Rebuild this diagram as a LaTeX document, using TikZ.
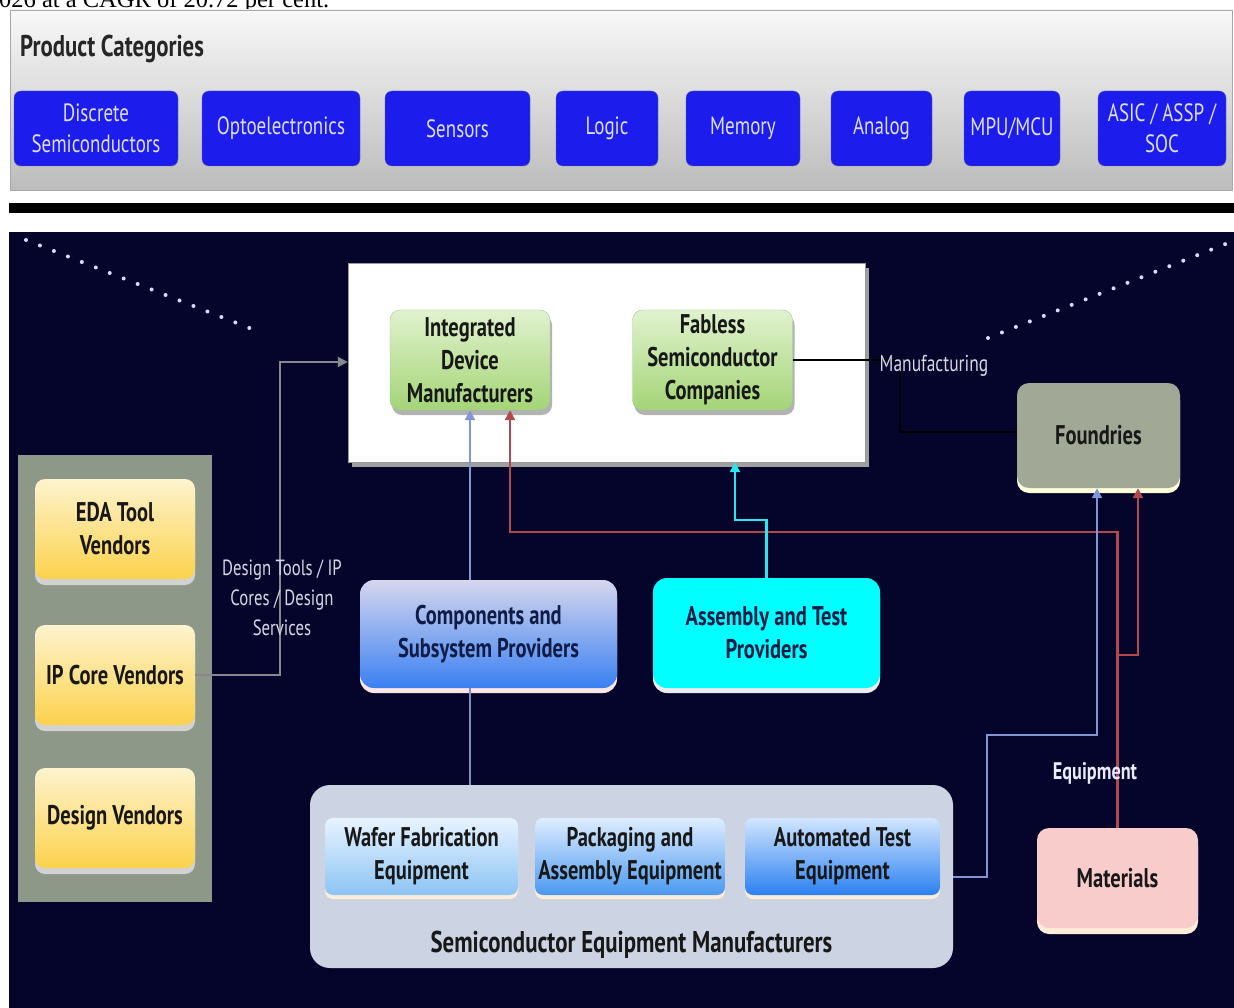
\documentclass[tikz,border=0pt]{standalone}
\usepackage{fontspec}
\setmainfont[FakeStretch=0.76]{PT Sans}
\newfontfamily\serifx{Liberation Serif}
\usetikzlibrary{shadows,arrows.meta}
\definecolor{navy}{RGB}{5,5,44}
\definecolor{panTop}{RGB}{248,248,248}
\definecolor{panBot}{RGB}{188,188,188}
\definecolor{catblue}{RGB}{28,28,236}
\definecolor{cattext}{RGB}{222,222,255}
\definecolor{grTop}{RGB}{224,242,206}
\definecolor{grBot}{RGB}{164,212,118}
\definecolor{foundry}{RGB}{161,169,150}
\definecolor{leftpanel}{RGB}{142,152,137}
\definecolor{yeTop}{RGB}{253,243,206}
\definecolor{yeBot}{RGB}{252,210,76}
\definecolor{cmpTop}{RGB}{214,214,238}
\definecolor{cmpBot}{RGB}{58,128,242}
\definecolor{semfill}{RGB}{204,212,228}
\definecolor{wfTop}{RGB}{232,243,255}
\definecolor{wfBot}{RGB}{140,196,244}
\definecolor{pkTop}{RGB}{222,237,255}
\definecolor{pkBot}{RGB}{74,152,240}
\definecolor{atTop}{RGB}{210,230,255}
\definecolor{atBot}{RGB}{42,128,240}
\definecolor{matfill}{RGB}{248,204,203}
\definecolor{aqua}{RGB}{0,255,255}
\definecolor{aqualine}{RGB}{40,230,240}
\definecolor{txtdark}{RGB}{24,24,24}
\definecolor{txtnavy}{RGB}{16,28,70}
\definecolor{redline}{RGB}{176,72,76}
\definecolor{blueline}{RGB}{130,150,215}
\definecolor{greyline}{RGB}{136,136,140}
\definecolor{labelgrey}{RGB}{215,215,228}
\begin{document}
\begin{tikzpicture}[x=1pt,y=-1pt,
  catbox/.style={draw=gray!70!blue, fill=catblue, rounded corners=7, minimum height=75,
    text=cattext, font=\fontsize{25}{31}\selectfont, align=center, inner sep=2},
  boxtext/.style={align=center, font=\bfseries\fontsize{27}{33}\selectfont, text=txtdark, inner sep=2},
  greenbox/.style={boxtext, rounded corners=10, draw=green!30!gray!60, top color=grTop, bottom color=grBot,
    minimum width=160, minimum height=100,
    drop shadow={shadow xshift=2pt, shadow yshift=-5pt, fill=gray!60, opacity=1}},
  yellowbox/.style={boxtext, rounded corners=10, top color=yeTop, bottom color=yeBot,
    minimum width=160, minimum height=100,
    drop shadow={shadow xshift=0pt, shadow yshift=-6pt, fill=gray!35, opacity=1}},
  eqbox/.style={boxtext, rounded corners=8, minimum width=192, minimum height=77,
    drop shadow={shadow xshift=0pt, shadow yshift=-4pt, fill=orange!15!white, opacity=1}},
  conn/.style={line width=2.2pt},
  tip/.style={-{Triangle[length=10pt,width=10pt]}},
  dotline/.style={draw=white!85!blue, line width=4pt, line cap=round, dash pattern=on 0pt off 15pt},
  lbl/.style={text=labelgrey, align=center, inner sep=1}
]
\useasboundingbox (0,0) rectangle (1234,1008);
\clip (0,0) rectangle (1234,1008);
\fill[white] (0,0) rectangle (1234,1008);

% clipped heading line
\node[anchor=base west, font=\serifx\fontsize{24.5}{26}\selectfont, inner sep=0, text=black] (cagr) at (-1,8) {026 at a CAGR of 20.72 per cent.};

% product categories panel
\node[draw=gray!70, top color=panTop, bottom color=panBot, minimum width=1222, minimum height=180, inner sep=0] (toppanel) at (621,100) {};
\node[anchor=west, font=\bfseries\fontsize{30}{34}\selectfont, text=black!85, inner sep=0] (pc) at (20,49) {Product Categories};
\node[catbox, minimum width=164] (c1) at (96,128.5) {Discrete\\Semiconductors};
\node[catbox, minimum width=158] (c2) at (281,128.5) {Optoelectronics};
\node[catbox, minimum width=145] (c3) at (457.5,128.5) {Sensors};
\node[catbox, minimum width=102] (c4) at (607,128.5) {Logic};
\node[catbox, minimum width=114] (c5) at (743,128.5) {Memory};
\node[catbox, minimum width=101] (c6) at (881.5,128.5) {Analog};
\node[catbox, minimum width=96] (c7) at (1012,128.5) {MPU/MCU};
\node[catbox, minimum width=128] (c8) at (1162,128.5) {ASIC / ASSP /\\SOC};

% black bar
\node[fill=black, minimum width=1226, minimum height=10, inner sep=0] (bar) at (622,208) {};

% navy background
\node[fill=navy, minimum width=1226, minimum height=776, inner sep=0] (bg) at (622,620) {};

% dotted diagonals
\coordinate (dl1) at (26,240);
\coordinate (dl2) at (262,333);
\coordinate (dr1) at (988,338);
\coordinate (dr2) at (1228,243);
\draw[dotline] (dl1) -- (dl2);
\draw[dotline] (dr1) -- (dr2);

% white container
\node[draw=gray!80, fill=white, minimum width=517, minimum height=199, inner sep=0,
  drop shadow={shadow xshift=4pt, shadow yshift=-5pt, fill=gray!75, opacity=1}] (wb) at (606.5,362.5) {};
\node[greenbox] (idm) at (470,360) {Integrated\\Device\\Manufacturers};
\node[greenbox] (fab) at (712.5,360) {Fabless\\Semiconductor\\Companies};

% foundries
\node[boxtext, rounded corners=12, fill=foundry, minimum width=163, minimum height=105,
  drop shadow={shadow xshift=0pt, shadow yshift=-5pt, fill=white!85!yellow, opacity=1}] (found) at (1098.5,435.5) {Foundries};

% left panel
\node[fill=leftpanel, minimum width=194, minimum height=447, inner sep=0] (lp) at (115,678.5) {};
\node[yellowbox] (eda) at (115,529) {EDA Tool\\Vendors};
\node[yellowbox] (ipc) at (115,675) {IP Core Vendors};
\node[yellowbox] (dsv) at (115,818) {Design Vendors};

% components & assembly
\node[boxtext, text=txtnavy, rounded corners=14, top color=cmpTop, bottom color=cmpBot, minimum width=257, minimum height=108,
  drop shadow={shadow xshift=0pt, shadow yshift=-5pt, fill=red!10!white, opacity=1}] (cmp) at (488.5,634) {Components and\\Subsystem Providers};
\node[boxtext, text=txtnavy, rounded corners=14, fill=aqua, minimum width=227, minimum height=110,
  drop shadow={shadow xshift=0pt, shadow yshift=-5pt, fill=gray!15, opacity=1}] (asm) at (766.5,633) {Assembly and Test\\Providers};

% semiconductor equipment manufacturers
\node[fill=semfill, rounded corners=20, minimum width=643, minimum height=183, inner sep=0] (sem) at (631.5,876.5) {};
\node[boxtext, font=\bfseries\fontsize{30}{34}\selectfont] (semt) at (631.5,945) {Semiconductor Equipment Manufacturers};
\node[eqbox, top color=wfTop, bottom color=wfBot, minimum width=193] (wfe) at (421.5,856.5) {Wafer Fabrication\\Equipment};
\node[eqbox, top color=pkTop, bottom color=pkBot, minimum width=190] (pae) at (630,856.5) {Packaging and\\Assembly Equipment};
\node[eqbox, top color=atTop, bottom color=atBot, minimum width=195] (ate) at (842.5,856.5) {Automated Test\\Equipment};

% materials
\node[boxtext, rounded corners=12, fill=matfill, minimum width=161, minimum height=100,
  drop shadow={shadow xshift=0pt, shadow yshift=-6pt, fill=white!85!orange, opacity=1}] (mat) at (1117.5,878) {Materials};

% --- connectors ---
% design tools
\coordinate (d1) at (280,362);
\draw[conn, draw=greyline, tip] (ipc.east) -| (d1) -- (d1 -| wb.west);
\node[lbl, font=\fontsize{22}{30}\selectfont] (dtl) at (282,598) {Design Tools / IP\\Cores / Design\\Services};

% components -> IDM, components -> SEM
\draw[conn, draw=blueline, tip] (idm.south |- cmp.north) -- (idm.south);
\draw[conn, draw=blueline!70!gray] (idm.south |- cmp.south) -- (idm.south |- sem.north);

% materials -> IDM and foundries
\coordinate (r1) at (1117.5,532);
\coordinate (r0) at (510,532);
\coordinate (r2) at (1117.5,655);
\coordinate (r3) at (1138,655);
\draw[conn, draw=redline, tip] (mat.north) -- (r1) -- (r0) -- (r0 |- idm.south);
\draw[conn, draw=redline, tip] (r2) -- (r3) -- (r3 |- found.south);

% equipment -> foundries
\coordinate (b1) at (987,877);
\coordinate (b2) at (987,735);
\coordinate (b3) at (1097,735);
\draw[conn, draw=blueline, tip] (b1 -| sem.east) -- (b1) -- (b2) -- (b3) -- (b3 |- found.south);
\node[lbl, text=white!92!blue, font=\bfseries\fontsize{24}{26}\selectfont] (eql) at (1095,773) {Equipment};

% assembly -> fabless container
\coordinate (cy1) at (735,520);
\draw[conn, draw=aqualine, tip] (asm.north) |- (cy1) -- (cy1 |- wb.south);

% fabless -> foundries (manufacturing)
\coordinate (m1) at (900,360);
\coordinate (m2) at (900,432);
\draw[conn, draw=black] (fab.east) -- (m1) -- (m2) -- (found.west |- m2);
\node[lbl, font=\fontsize{23}{26}\selectfont] (mfl) at (934,366) {Manufacturing};
\end{tikzpicture}
\end{document}
